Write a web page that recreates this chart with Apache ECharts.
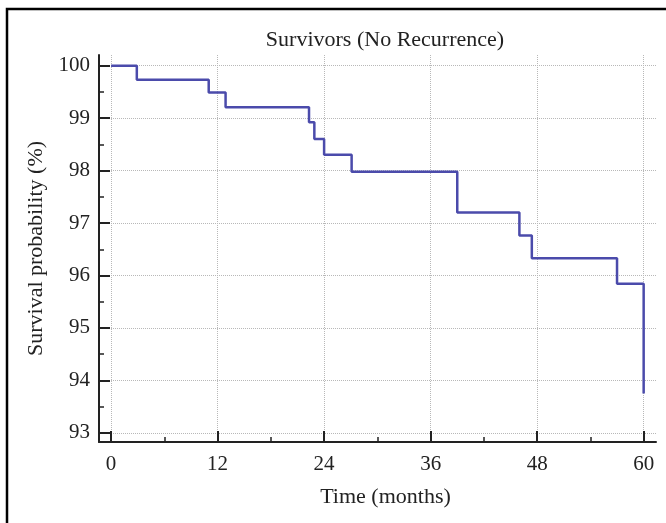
<!DOCTYPE html>
<html>
<head>
<meta charset="utf-8">
<script src="https://cdn.jsdelivr.net/npm/echarts@6/dist/echarts.min.js"></script>
<style>
  html, body { margin: 0; padding: 0; background: #fff; }
  #chart { width: 666px; height: 523px; }
</style>
</head>
<body>
<div id="chart"></div>
<script>
// Kaplan-Meier steps
var months = [0, 2.9, 11.0, 12.9, 22.3, 22.9, 24.0, 27.1, 39.0, 46.0, 47.4, 57.0, 60.0]
var survival = [100, 99.73, 99.49, 99.21, 98.92, 98.60, 98.30, 97.98, 97.20, 96.76, 96.33, 95.84, 93.75]
var xTicks = [0, 12, 24, 36, 48, 60]
var xMinorTicks = [6, 18, 30, 42, 54]
var yTicks = [93, 94, 95, 96, 97, 98, 99, 100]
var yMinorTicks = [93.5, 94.5, 95.5, 96.5, 97.5, 98.5, 99.5]

var serif = 'Liberation Serif'
var ink = '#222'

let myChart = echarts.init(document.getElementById('chart'))

var points = months.map(function (m, i) { return [m, survival[i]] })

var option = {
  animation: false,
  backgroundColor: '#fff',
  title: {
    text: 'Survivors (No Recurrence)',
    left: 380,
    top: 24,
    textAlign: 'center',
    textStyle: { fontFamily: serif, fontSize: 22, fontWeight: 'normal', color: ink }
  },
  graphic: [{
    type: 'rect',
    shape: { x: 7, y: 9, width: 720, height: 600 },
    style: { fill: 'none', stroke: '#000', lineWidth: 2.5 },
    silent: true
  }],
  grid: { left: 99, right: 10, top: 55, bottom: 81 },
  xAxis: [
    {
      type: 'value',
      min: -1.36,
      max: 61.39,
      name: 'Time (months)',
      nameLocation: 'middle',
      nameGap: 44,
      nameTextStyle: { fontFamily: serif, fontSize: 22, color: ink, padding: [0, 0, 0, 16] },
      axisLine: { show: true, onZero: false, lineStyle: { color: ink, width: 2 } },
      axisTick: { show: true, inside: true, length: 11, customValues: xTicks, lineStyle: { color: ink, width: 2 } },
      axisLabel: { customValues: xTicks, margin: 12, fontFamily: serif, fontSize: 21, color: ink },
      splitLine: { show: true, lineStyle: { type: 'dotted', color: '#b8b8b8', width: 1 } }
    },
    {
      type: 'value',
      position: 'bottom',
      min: -1.36,
      max: 61.39,
      axisLine: { show: false, onZero: false },
      axisTick: { show: true, inside: true, length: 5, customValues: xMinorTicks, lineStyle: { color: ink, width: 1.5 } },
      axisLabel: { show: false },
      splitLine: { show: false }
    }
  ],
  yAxis: [
    {
      type: 'value',
      min: 92.825,
      max: 100.204,
      name: 'Survival probability (%)',
      nameLocation: 'middle',
      nameGap: 52,
      nameTextStyle: { fontFamily: serif, fontSize: 22, color: ink },
      axisLine: { show: true, onZero: false, lineStyle: { color: ink, width: 2 } },
      axisTick: { show: true, inside: true, length: 11, customValues: yTicks, lineStyle: { color: ink, width: 2 } },
      axisLabel: { customValues: yTicks, margin: 9, fontFamily: serif, fontSize: 21, color: ink },
      splitLine: { show: true, lineStyle: { type: 'dotted', color: '#b8b8b8', width: 1 } }
    },
    {
      type: 'value',
      position: 'left',
      min: 92.825,
      max: 100.204,
      axisLine: { show: false, onZero: false },
      axisTick: { show: true, inside: true, length: 5, customValues: yMinorTicks, lineStyle: { color: ink, width: 1.5 } },
      axisLabel: { show: false },
      splitLine: { show: false }
    }
  ],
  series: [{
    type: 'line',
    step: 'end',
    xAxisIndex: 0,
    yAxisIndex: 0,
    symbol: 'none',
    lineStyle: { color: '#4b4bab', width: 2.5 },
    data: points
  }]
}
myChart.setOption(option)
</script>
</body>
</html>
